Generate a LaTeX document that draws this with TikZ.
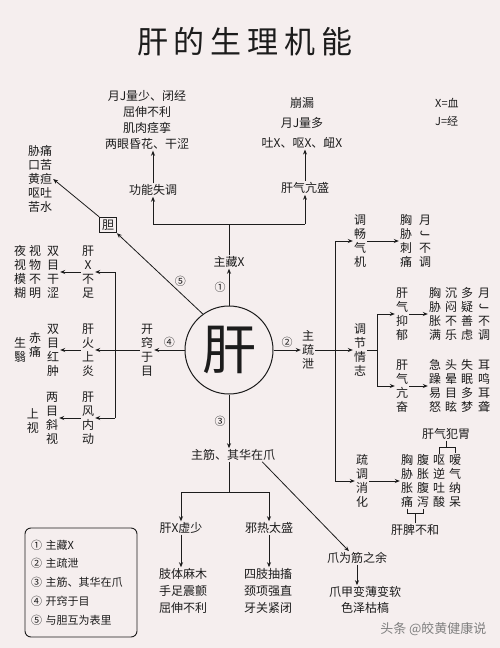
\documentclass[tikz,border=0pt]{standalone}
\usepackage{fontspec}
\setmainfont{Noto Sans CJK SC}
\usepackage{graphicx}
\usetikzlibrary{arrows.meta}
\definecolor{paper}{RGB}{245,238,238}
\definecolor{ink}{RGB}{28,28,28}
\newcommand{\vJ}{\rotatebox[origin=c]{-90}{J}}
\tikzset{
 txt/.style={font=\fontsize{12}{14}\selectfont,inner sep=1pt,text=ink,align=center},
 num/.style={font=\fontsize{11}{12}\selectfont,inner sep=0pt,text=ink},
 arr/.style={-{Stealth[length=5pt,width=4pt]},line width=.8pt,draw=ink},
 ln/.style={line width=.8pt,draw=ink}
}
\begin{document}
\begin{tikzpicture}[x=1pt,y=-1pt]
\fill[paper] (0,0) rectangle (500,648);
\useasboundingbox (0,0) rectangle (500,648);

\node[text=ink,font=\fontsize{31}{31}\selectfont] (title) at (245,42) {肝\hspace{6pt}的\hspace{6pt}生\hspace{6pt}理\hspace{6pt}机\hspace{6pt}能};
\node[circle,draw=ink,line width=1pt,minimum size=88pt,inner sep=0pt,text=ink,font=\fontsize{54}{54}\selectfont] (gan) at (229,350) {肝};

\node[txt] (zc) at (229,262) {主藏X};
\draw[arr] (gan) -- (zc) node[num,midway,left=3pt] {①};
\coordinate (up) at (229,224);
\coordinate (upl) at (153,224);
\coordinate (upr) at (305,224);
\draw[ln] (zc) -- (up);
\draw[ln] (upl) -- (upr);
\node[txt] (gnst) at (153,190) {功能失调};
\node[txt] (gqks) at (305,188) {肝气亢盛};
\draw[arr] (upl) -- (gnst);
\draw[arr] (upr) -- (gqks);
\node[txt,font=\fontsize{12}{16}\selectfont] (sxa) at (147,120) {月J量少、闭经\\屈伸不利\\肌肉痉挛\\两眼昏花、干涩};
\node[txt,font=\fontsize{12}{20}\selectfont] (sxb) at (302,123) {崩漏\\月J量多\\吐X、呕X、衄X};
\draw[arr] (gnst) -- (gnst |- sxa.south);
\draw[arr] (gqks) -- (gqks |- sxb.south);
\node[num,anchor=west] (xk) at (435,103) {X=血};
\node[num,anchor=west] (jk) at (435,121) {J=经};

\node[txt,draw=ink,line width=.8pt,inner sep=2.5pt] (dan) at (108,225) {胆};
\draw[arr] (gan.126) -- (dan.south east) node[num,pos=.4,right=6pt] {⑤};
\node[txt] (dsx) at (40,179) {胁痛\\口苦\\黄疸\\呕吐\\苦水};
\draw[arr] (dan.north west) -- (dsx.east);

\node[txt] (kq) at (147,350) {开\\窍\\于\\目};
\draw[arr] (gan) -- (kq) node[num,midway,above=2pt] {④};
\coordinate (lm) at (115,350);
\coordinate (lt) at (115,272);
\coordinate (lb) at (115,418);
\draw[ln] (kq) -- (lm);
\draw[ln] (lt) -- (lb);
\node[txt] (gxbz) at (88,272) {肝\\X\\不\\足};
\node[txt] (ghsy) at (88,350) {肝\\火\\上\\炎};
\node[txt] (gfnd) at (88,418) {肝\\风\\内\\动};
\draw[arr] (lt) -- (gxbz);
\draw[arr] (lm) -- (ghsy);
\draw[arr] (lb) -- (gfnd);
\node[txt] (smgs) at (53,272) {双\\目\\干\\涩};
\node[txt] (swbm) at (35,272) {视\\物\\不\\明};
\node[txt] (yshm) at (20,272) {夜\\视\\模\\糊};
\draw[arr] (gxbz) -- (smgs);
\node[txt] (smhz) at (53,350) {双\\目\\红\\肿};
\node[txt] (ct) at (35,345) {赤\\痛};
\node[txt] (sy) at (20,350) {生\\翳};
\draw[arr] (ghsy) -- (smhz);
\node[txt] (lmxs) at (52,418) {两\\目\\斜\\视};
\node[txt] (ss) at (33,421) {上\\视};
\draw[arr] (gfnd) -- (lmxs);

\node[txt] (zsx) at (308,350) {主\\疏\\泄};
\draw[arr] (gan) -- (zsx) node[num,midway,above=2pt] {②};
\coordinate (rm) at (335,350);
\coordinate (rt) at (335,241);
\coordinate (rb) at (335,481);
\draw[ln] (zsx) -- (rm);
\draw[ln] (rt) -- (rb);
\node[txt] (tcqj) at (360,241) {调\\畅\\气\\机};
\node[txt] (tjqz) at (360,350) {调\\节\\情\\志};
\node[txt] (stxh) at (362,481) {疏\\调\\消\\化};
\draw[arr] (rt) -- (tcqj);
\draw[arr] (rm) -- (tjqz);
\draw[arr] (rb) -- (stxh);
\node[txt] (xxct) at (406,241) {胸\\胁\\刺\\痛};
\node[txt] (yjbt) at (425,241) {月\\\vJ\\不\\调};
\draw[arr] (tcqj) -- (xxct);

\coordinate (qm) at (377,350);
\coordinate (qt) at (377,314);
\coordinate (qb) at (377,386);
\draw[ln] (tjqz) -- (qm);
\draw[ln] (qt) -- (qb);
\node[txt] (gqyy) at (402,314) {肝\\气\\抑\\郁};
\node[txt] (gqkf) at (402,386) {肝\\气\\亢\\奋};
\draw[arr] (qt) -- (gqyy);
\draw[arr] (qb) -- (gqkf);
\node[txt] (xxzm) at (435,314) {胸\\胁\\胀\\满};
\node[txt] (cmbl) at (451,314) {沉\\闷\\不\\乐};
\node[txt] (dysl) at (467,314) {多\\疑\\善\\虑};
\node[txt] (yjbtb) at (484,314) {月\\\vJ\\不\\调};
\draw[arr] (gqyy) -- (xxzm);
\node[txt] (jzyn) at (435,386) {急\\躁\\易\\怒};
\node[txt] (tyms) at (451,386) {头\\晕\\目\\眩};
\node[txt] (smdm) at (467,386) {失\\眠\\多\\梦};
\node[txt] (emel) at (484,386) {耳\\鸣\\耳\\聋};
\draw[arr] (gqkf) -- (jzyn);

\node[txt] (xxzt) at (407,481) {胸\\胁\\胀\\痛};
\node[txt] (fzfx) at (423,481) {腹\\胀\\腹\\泻};
\node[txt] (onts) at (439,481) {呕\\逆\\吐\\酸};
\node[txt] (aqnd) at (455,481) {嗳\\气\\纳\\呆};
\draw[arr] (stxh) -- (xxzt);
\node[txt] (gqfw) at (446,434) {肝气犯胃};
\draw[ln] (onts.north) -- ++(0,-6) -| (aqnd.north);
\draw[ln] (gqfw.south) -- ++(0,6);
\node[txt] (gpbh) at (415,530) {肝脾不和};
\draw[ln] (xxzt.south) -- ++(0,5) -| (fzfx.south);
\draw[ln] (gpbh.north) -- ++(0,-9);

\node[txt] (zjqh) at (233,455) {主筋、其华在爪};
\draw[arr] (gan) -- (gan |- zjqh.north) node[num,midway,left=3pt] {③};
\coordinate (bm) at (229,492);
\coordinate (bl) at (181,492);
\coordinate (br) at (269,492);
\draw[ln] (zjqh.south -| gan) -- (bm);
\draw[ln] (bl) -- (br);
\node[txt] (gxxs) at (181,528) {肝X虚少};
\node[txt] (xrts) at (269,528) {邪热太盛};
\draw[arr] (bl) -- (gxxs);
\draw[arr] (br) -- (xrts);
\node[txt,font=\fontsize{12}{17}\selectfont] (zta) at (183,591) {肢体麻木\\手足震颤\\屈伸不利};
\node[txt,font=\fontsize{12}{17}\selectfont] (ztb) at (268,591) {四肢抽搐\\颈项强直\\牙关紧闭};
\draw[arr] (gxxs) -- (gxxs |- zta.north);
\draw[arr] (xrts) -- (xrts |- ztb.north);
\node[txt] (zwjz) at (357,558) {爪为筋之余};
\draw[arr] ([xshift=-14pt]zjqh.south east) -- ([xshift=-8pt]zwjz.north);
\node[txt,font=\fontsize{12}{16}\selectfont] (zjbh) at (365,600) {爪甲变薄变软\\色泽枯槁};
\draw[arr] (zwjz) -- (zwjz |- zjbh.north);

\node[draw=ink,line width=.9pt,rounded corners=6pt,text width=100pt,inner xsep=6pt,minimum height=109pt,align=left,text=ink,font=\fontsize{11}{18.7}\selectfont] (key) at (81,582.5) {① 主藏X\\② 主疏泄\\③ 主筋、其华在爪\\④ 开窍于目\\⑤ 与胆互为表里};
\node[text=black!50,font=\fontsize{13}{13}\selectfont,anchor=east] (wm) at (490,629) {头条 @皎黄健康说};
\end{tikzpicture}
\end{document}
